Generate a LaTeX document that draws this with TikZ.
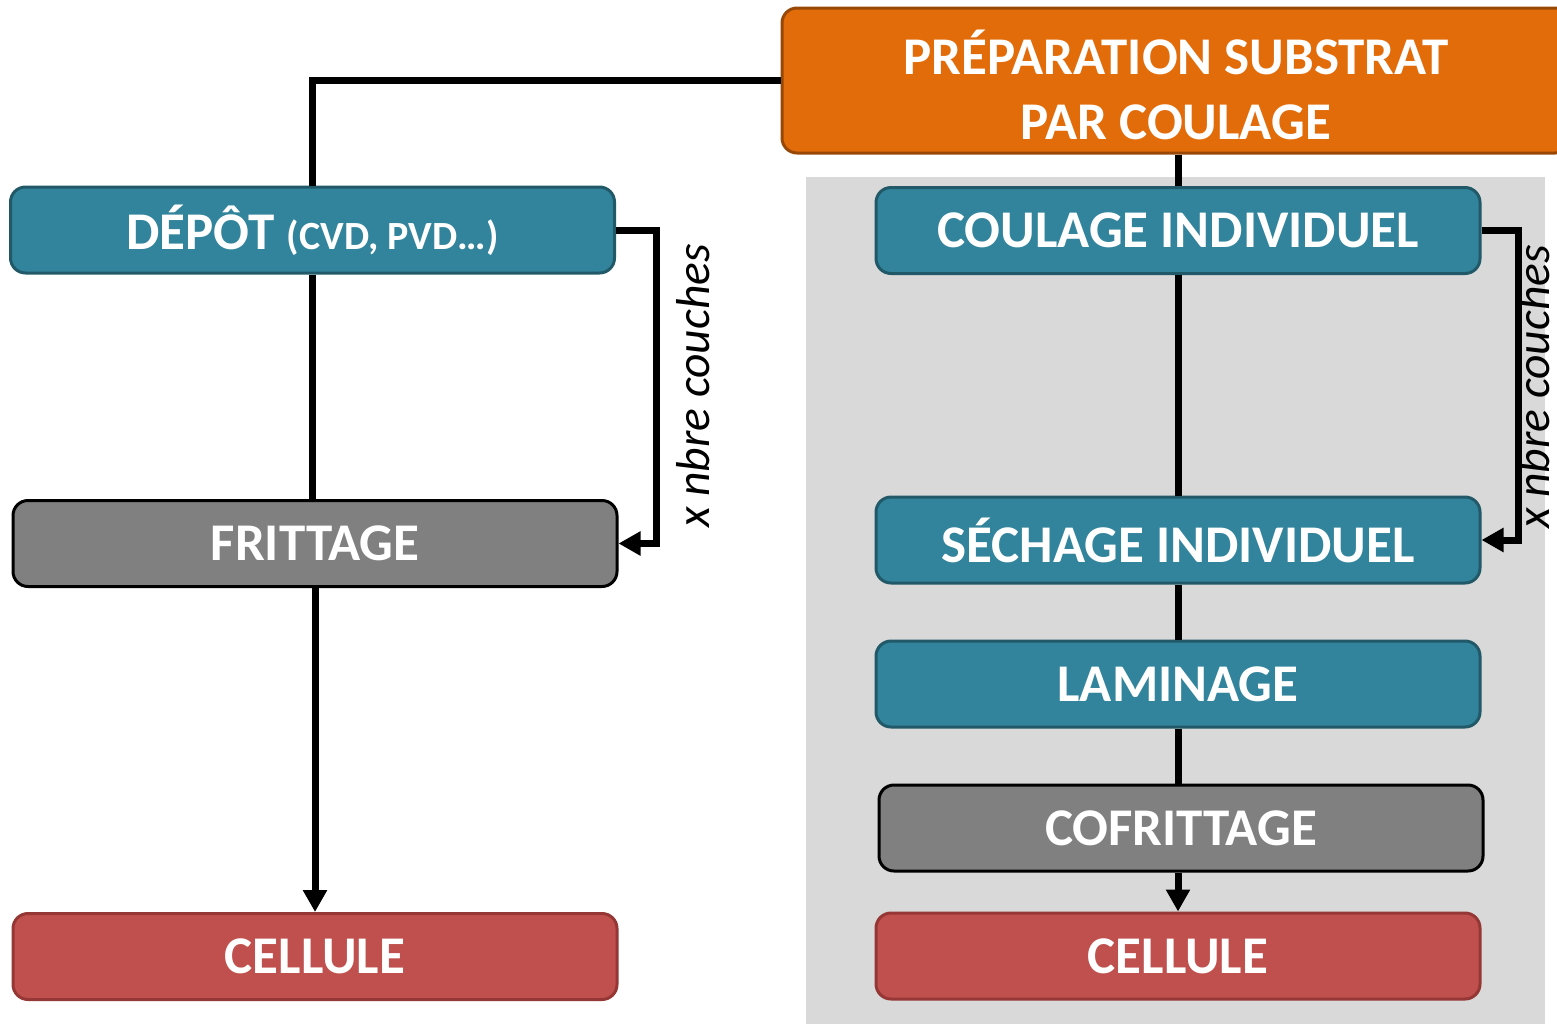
\documentclass[tikz,border=0pt]{standalone}
\usepackage{fontspec}
\setmainfont{Carlito}
\usetikzlibrary{arrows.meta}
\definecolor{tealfill}{RGB}{49,132,155}
\definecolor{tealline}{RGB}{33,89,104}
\definecolor{orangefill}{RGB}{227,108,10}
\definecolor{orangeline}{RGB}{152,72,6}
\definecolor{greyfill}{RGB}{128,128,128}
\definecolor{redfill}{RGB}{192,80,77}
\definecolor{redline}{RGB}{149,55,53}
\definecolor{panelgrey}{RGB}{217,217,217}
\begin{document}
\begin{tikzpicture}[x=0.5pt,y=-0.5pt,
  boxfont/.style={text=white, align=center, font=\fontsize{26.5}{32.5}\selectfont\bfseries},
  box/.style={rectangle, rounded corners=7.5pt, line width=1.5pt,
    minimum width=302pt, minimum height=43pt, inner sep=0pt, boxfont},
  tealbox/.style={box, fill=tealfill, draw=tealline},
  greybox/.style={box, fill=greyfill, draw=black},
  redbox/.style={box, fill=redfill, draw=redline},
  orangebox/.style={box, fill=orangefill, draw=orangeline,
    minimum width=394pt, minimum height=72.5pt},
  link/.style={line width=3.5pt, draw=black},
  arr/.style={link, -{Triangle[length=11pt,width=11.5pt]}},
  lbl/.style={font=\fontsize{23.8}{28}\selectfont\itshape, text=black, rotate=90, inner sep=0pt}]
\useasboundingbox (0,0) rectangle (1557,1023);

% grey panel behind the co-sintering route
\fill[panelgrey] (806,177) rectangle (1545,1030);

% process steps
\node[orangebox] (prep) at (1176,80.5) {};
\node[boxfont, inner sep=0pt] (preptext) at ([yshift=-2.3pt]prep.center) {PRÉPARATION SUBSTRAT\\PAR COULAGE};

\node[tealbox] (dep) at (312.5,230) {DÉPÔT {\fontsize{20}{24}\selectfont(CVD, PVD…)}};
\node[greybox] (frit) at (315,543.5) {FRITTAGE};
\node[redbox] (cellL) at (315,956.5) {CELLULE};

\node[tealbox] (coul) at (1178,230.5) {COULAGE INDIVIDUEL};
\node[tealbox] (sech) at (1178,540) {SÉCHAGE INDIVIDUEL};
\node[tealbox] (lam) at (1178,684) {LAMINAGE};
\node[greybox] (cofr) at (1181,828) {COFRITTAGE};
\node[redbox] (cellR) at (1178,956) {CELLULE};

% left route: deposition
\draw[link] (prep.west) -| (dep.north);
\draw[link] (dep.south) -- (dep.south |- frit.north);
\draw[arr] (frit.south) -- (cellL.north);
\draw[arr] (dep.east) -- ++(40,0) |- (frit.east);
\node[lbl] (repL) at (693,386) {x nbre couches};

% right route: tape casting
\draw[link] (prep.south -| coul.north) -- (coul.north);
\draw[link] (coul.south) -- (sech.north);
\draw[link] (sech.south) -- (lam.north);
\draw[link] (lam.south) -- (lam.south |- cofr.north);
\draw[arr] (cofr.south -| cellR.north) -- (cellR.north);
\draw[arr] (coul.east) -- ++(37,0) |- (sech.east);
\node[lbl] (repR) at (1533,387) {x nbre couches};
\end{tikzpicture}
\end{document}
